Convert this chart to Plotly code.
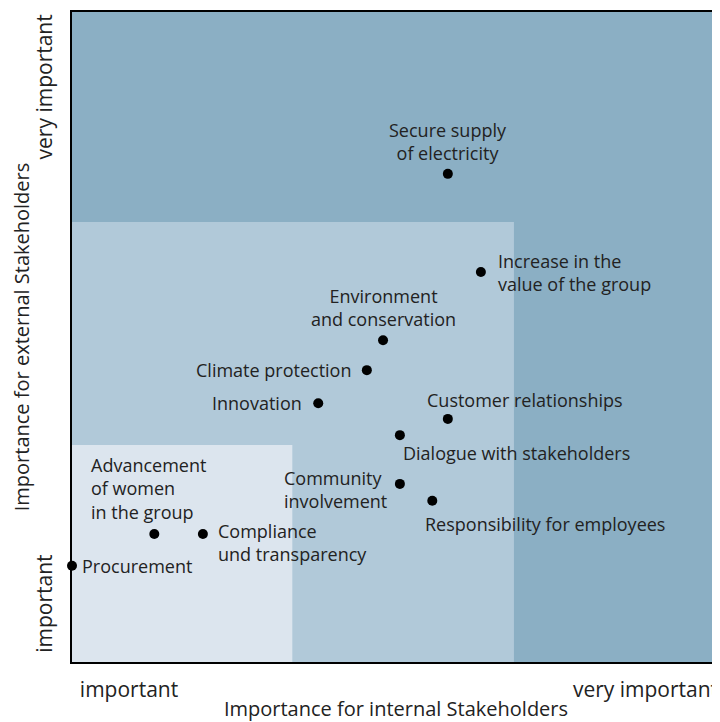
import plotly.graph_objects as go

# Materiality matrix data (scale 0-10 on both axes)
topics = [
    "Secure supply<br>of electricity",
    "Increase in the<br>value of the group",
    "Environment<br>and conservation",
    "Climate protection",
    "Innovation",
    "Customer relationships",
    "Dialogue with stakeholders",
    "Community<br>involvement",
    "Responsibility for employees",
    "Advancement<br>of women<br>in the group",
    "Compliance<br>und transparency",
    "Procurement",
]
internal = [5.80, 6.31, 4.80, 4.55, 3.80, 5.80, 5.06, 5.06, 5.56, 1.27, 2.02, 0.0]
external = [7.51, 6.00, 4.95, 4.49, 3.98, 3.74, 3.49, 2.74, 2.48, 1.97, 1.97, 1.48]

# importance zones (upper bounds on each axis)
zone_x = [6.82, 3.40]
zone_y = [6.77, 3.34]
zone_colors = ["#B1C9D9", "#DCE5EE"]

tick_vals_x = [0.88, 8.85]
tick_vals_y = [0.85, 8.8]
tick_text = ["important", "very important"]

# label placement relative to the marker: xanchor, align, xshift, yshift
label_pos = [
    ("center", "center", 0, 32),
    ("left", "left", 15, 0),
    ("center", "center", 0, 33),
    ("right", "right", -14, 0),
    ("right", "right", -14, 0),
    ("left", "left", -23, 19),
    ("left", "left", 1, -18),
    ("right", "left", -11, -6),
    ("left", "left", -9, -23),
    ("left", "left", -65, 45),
    ("left", "left", 13, -9),
    ("left", "left", 8, 0),
]

FONT = "Open Sans"
TXT = "#222222"

fig = go.Figure()

fig.add_trace(go.Scatter(
    x=internal, y=external, mode="markers",
    marker=dict(color="black", size=10),
    cliponaxis=False, hoverinfo="text", text=[t.replace("<br>", " ") for t in topics],
    showlegend=False,
))

for zx, zy, c in zip(zone_x, zone_y, zone_colors):
    fig.add_shape(type="rect", x0=0, y0=0, x1=zx, y1=zy, xref="x", yref="y",
                  fillcolor=c, line=dict(width=0), layer="below")

for t, xv, yv, (xa, al, dx, dy) in zip(topics, internal, external, label_pos):
    fig.add_annotation(x=xv, y=yv, text=t, showarrow=False, xanchor=xa, yanchor="middle",
                       align=al, xshift=dx, yshift=dy,
                       font=dict(family=FONT, size=18, color=TXT))

fig.update_layout(
    width=712, height=714,
    margin=dict(l=64, r=0, t=4, b=60),
    plot_bgcolor="#8BAFC4",
    paper_bgcolor="white",
    font=dict(family=FONT, color=TXT),
    xaxis=dict(
        range=[0, 10], showgrid=False, zeroline=False,
        showline=True, linecolor="black", linewidth=2, mirror=True,
        tickvals=tick_vals_x, ticktext=tick_text, ticks="", ticklabelstandoff=8,
        tickfont=dict(size=21, color=TXT),
        title=dict(text="Importance for internal Stakeholders", font=dict(size=20, color=TXT), standoff=0),
        automargin=False,
    ),
    yaxis=dict(
        range=[0, 10], showgrid=False, zeroline=False,
        showline=True, linecolor="black", linewidth=2, mirror=False,
        tickvals=tick_vals_y, ticktext=tick_text, ticks="", tickangle=-90, ticklabelstandoff=10,
        tickfont=dict(size=21, color=TXT),
        title=dict(text="Importance for external Stakeholders", font=dict(size=20, color=TXT), standoff=12),
        automargin=False,
    ),
)

fig.write_html("out.html")
